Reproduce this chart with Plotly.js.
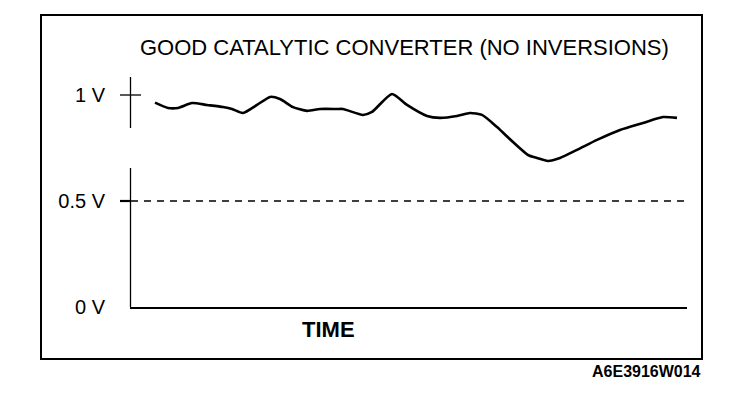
<!DOCTYPE html>
<html>
<head>
<meta charset="utf-8">
<script src="https://cdn.plot.ly/plotly-3.0.1.min.js"></script>
<style>
html,body{margin:0;padding:0;background:#fff;}
#chart{width:752px;height:404px;}
</style>
</head>
<body>
<div id="chart"></div>
<script>
// Data (time in arbitrary units, voltage in V)
const timeUnits = [25, 38, 48, 62, 77, 93, 102, 113, 127, 140, 150, 163, 177, 190, 207, 213, 233, 242, 262, 277, 297, 310, 327, 340, 352, 367, 383, 398, 407, 418, 430, 447, 467, 490, 513, 533, 547];
const voltage   = [0.964, 0.939, 0.939, 0.962, 0.953, 0.943, 0.934, 0.915, 0.953, 0.991, 0.981, 0.943, 0.925, 0.934, 0.934, 0.934, 0.906, 0.920, 1.005, 0.953, 0.901, 0.892, 0.901, 0.915, 0.906, 0.849, 0.778, 0.717, 0.703, 0.689, 0.703, 0.741, 0.788, 0.835, 0.868, 0.896, 0.892];
const tickValues = [0, 0.5, 1];
const tickLabels = ['0 V', '0.5 V', '1 V'];
const thresholdVoltage = 0.5;
const chartTitle = 'GOOD CATALYTIC CONVERTER (NO INVERSIONS)';
const xTitle = 'TIME';
const figureCode = 'A6E3916W014';

// layout geometry (pixels)
const L = 130, R = 65, T = 74, B = 97, W = 752, H = 404;
const pw = W - L - R, ph = H - T - B;
const px = x => (x - L) / pw;
const py = y => (H - B - y) / ph;
const FONT = 'Liberation Sans, Arial, sans-serif';

const trace = {
  x: timeUnits, y: voltage, type: 'scatter', mode: 'lines',
  line: {color: '#000', width: 2.6, shape: 'spline', smoothing: 0.6},
  hoverinfo: 'skip'
};

const line = (x0, y0, x1, y1, w, dash) => ({
  type: 'line', xref: 'paper', yref: 'paper',
  x0: px(x0), y0: py(y0), x1: px(x1), y1: py(y1),
  line: {color: '#000', width: w, dash: dash || 'solid'}
});

const shapes = [
  // outer frame
  {type: 'rect', xref: 'paper', yref: 'paper', x0: px(41), y0: py(15), x1: px(702), y1: py(359),
   line: {color: '#000', width: 2}, fillcolor: 'rgba(0,0,0,0)'},
  // vertical axis (broken as in reference)
  line(130.5, 77, 130.5, 128, 1.3),
  line(130.5, 168, 130.5, 307, 1.3),
  // 1 V cross tick
  {type: 'line', xref: 'paper', yref: 'y', x0: px(120), x1: px(141), y0: 1, y1: 1, line: {color: '#000', width: 1.3}},
  // 0.5 V tick
  {type: 'line', xref: 'paper', yref: 'y', x0: px(120), x1: px(131), y0: thresholdVoltage, y1: thresholdVoltage, line: {color: '#000', width: 2.2}},
  // 0.5 V dashed threshold
  {type: 'line', xref: 'paper', yref: 'y', x0: px(131), x1: px(684), y0: thresholdVoltage, y1: thresholdVoltage,
   line: {color: '#000', width: 1.5, dash: '7px,6px'}}
];

const layout = {
  width: W, height: H,
  margin: {l: L, r: R, t: T, b: B, pad: 0},
  paper_bgcolor: '#fff', plot_bgcolor: '#fff',
  showlegend: false,
  font: {family: FONT, color: '#000'},
  xaxis: {range: [0, pw], showgrid: false, zeroline: false, showticklabels: false, ticks: '',
          showline: true, linecolor: '#000', linewidth: 1.5, fixedrange: true},
  yaxis: {range: [0, ph / 212], showgrid: false, zeroline: false, showline: false, ticks: '',
          tickvals: tickValues, ticktext: tickLabels, ticklabelstandoff: 24,
          tickfont: {family: FONT, size: 20, color: '#000'}, fixedrange: true},
  shapes: shapes,
  annotations: [
    {text: chartTitle, xref: 'paper', yref: 'paper', x: px(404), y: py(47), xanchor: 'center', yanchor: 'middle',
     showarrow: false, font: {family: FONT, size: 22, color: '#000'}},
    {text: '<b>' + xTitle + '</b>', xref: 'paper', yref: 'paper', x: px(328), y: py(329), xanchor: 'center', yanchor: 'middle',
     showarrow: false, font: {family: FONT, size: 22, color: '#000'}},
    {text: '<b>' + figureCode + '</b>', xref: 'paper', yref: 'paper', x: px(703), y: py(371), xanchor: 'right', yanchor: 'middle',
     showarrow: false, font: {family: FONT, size: 16, color: '#000'}}
  ]
};

Plotly.newPlot('chart', [trace], layout, {staticPlot: true, displayModeBar: false});
</script>
</body>
</html>
